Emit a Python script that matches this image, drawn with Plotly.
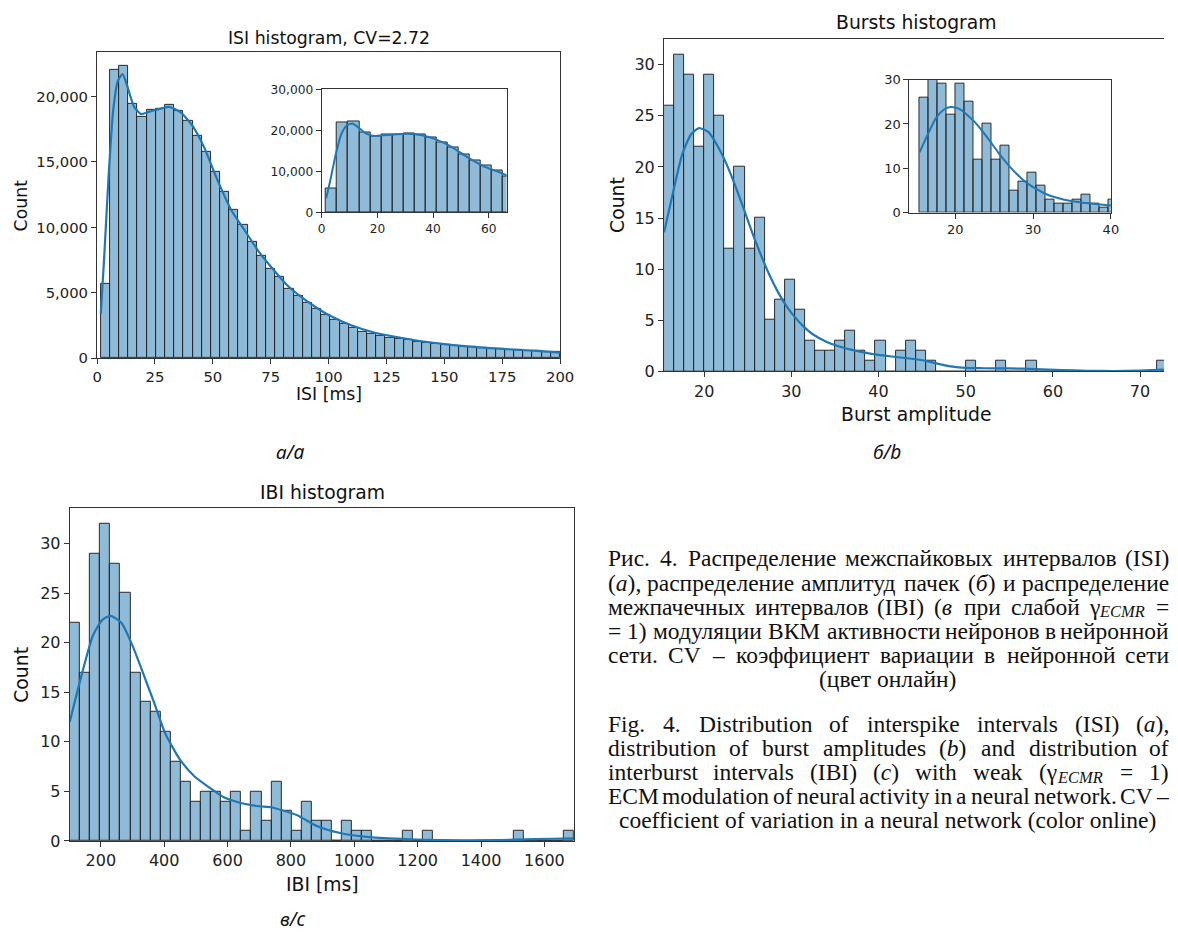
import re
import numpy as np
import plotly.graph_objects as go

W, H = 1178, 940

# ---------------- data ----------------
# ISI histogram (50 bins)
isi_bin_start = 1.57
isi_bin_width = 3.969
isi_counts = [5700, 22000, 22300, 19400, 18450, 19000, 19050, 19350, 18900, 18150,
              16950, 15800, 14200, 12700, 11350, 10150, 8850, 7850, 6800, 6250,
              5300, 4800, 4200, 3750, 3300, 2900, 2600, 2300, 2050, 1850,
              1700, 1550, 1450, 1380, 1280, 1180, 1100, 1030, 960, 900,
              850, 800, 750, 700, 660, 620, 580, 540, 500, 470]
isi_kde_x = [1.6, 3, 5, 7, 9, 11, 13, 16, 19, 22, 26, 31, 36, 41, 46, 52, 58, 64, 70,
             76, 82, 88, 94, 100, 110, 120, 130, 140, 150, 160, 170, 180, 190, 200]
isi_kde_y = [3400, 7500, 14000, 19000, 21200, 21700, 20800, 19200, 18650, 18800, 19000,
             19200, 18800, 17800, 16200, 13600, 11300, 9700, 8100, 6800, 5600, 4700,
             3950, 3300, 2500, 1950, 1600, 1300, 1080, 900, 770, 660, 560, 430]

# Bursts histogram (50 bins)
burst_bin_start = 15.4
burst_bin_width = 1.155
burst_counts = [26, 31, 29, 22, 29, 25, 12, 20, 12, 15,
                5, 7, 9, 6, 3, 2, 2, 3, 4, 2,
                1, 3, 0, 2, 3, 2, 1, 0, 0, 0,
                1, 0, 0, 1, 0, 0, 1, 0, 0, 0,
                0, 0, 0, 0, 0, 0, 0, 0, 0, 1]
burst_kde_x = [15.4, 16.5, 17.5, 18.5, 19.4, 20.5, 21.5, 22.5, 23.5, 24.5, 25.5, 26.5,
               27.5, 28.5, 29.5, 30.5, 31.5, 32.5, 34, 36, 38, 40, 42, 44, 45.5, 47,
               48.5, 50, 52, 55, 58, 61, 64, 67, 70, 73]
burst_kde_y = [13.6, 17.8, 21.3, 23.2, 23.8, 23.4, 22.1, 20.4, 18.3, 16.0, 13.6, 11.4,
               9.4, 7.7, 6.3, 5.2, 4.3, 3.6, 2.9, 2.3, 1.9, 1.6, 1.4, 1.2, 1.0, 0.7,
               0.45, 0.33, 0.3, 0.28, 0.22, 0.12, 0.05, 0.03, 0.08, 0.18]

# IBI histogram (50 bins)
ibi_bin_start = 102.3
ibi_bin_width = 31.82
ibi_counts = [22, 17, 29, 32, 28, 25, 17, 14, 13, 11,
              8, 6, 4, 5, 5, 4, 5, 1, 5, 2,
              6, 3, 1, 4, 2, 2, 0, 2, 1, 1,
              0, 0, 0, 1, 0, 1, 0, 0, 0, 0,
              0, 0, 0, 0, 1, 0, 0, 0, 0, 1]
ibi_kde_x = [102, 140, 175, 205, 231, 265, 300, 335, 370, 404, 450, 496, 542, 588, 613,
             645, 700, 737, 772, 820, 882, 955, 1048, 1173, 1278, 1340, 1400, 1508,
             1623, 1693]
ibi_kde_y = [12.0, 16.8, 20.7, 22.3, 22.7, 22.0, 19.7, 16.8, 13.8, 10.8, 8.2, 6.5, 5.4,
             4.4, 4.1, 3.8, 3.5, 3.4, 3.1, 2.6, 1.5, 0.8, 0.38, 0.17, 0.08, 0.04, 0.06,
             0.13, 0.22, 0.25]

isi_ticks = [0, 25, 50, 75, 100, 125, 150, 175, 200]
isi_yticks = [0, 5000, 10000, 15000, 20000]
isi_inset_xticks = [0, 20, 40, 60]
isi_inset_yticks = [0, 10000, 20000, 30000]
burst_ticks = [20, 30, 40, 50, 60, 70]
burst_yticks = [0, 5, 10, 15, 20, 25, 30]
burst_inset_xticks = [20, 30, 40]
burst_inset_yticks = [0, 10, 20, 30]
ibi_ticks = [200, 400, 600, 800, 1000, 1200, 1400, 1600]
ibi_yticks = [0, 5, 10, 15, 20, 25, 30]

caption_ru = [
    "Рис. 4. Распределение межспайковых интервалов (ISI)",
    "(<i>а</i>), распределение амплитуд пачек (<i>б</i>) и распределение",
    "межпачечных интервалов (IBI) (<i>в</i> при слабой γ<sub><i>ECMR</i></sub> =",
    "= 1) модуляции ВКМ активности нейронов в нейронной",
    "сети. CV – коэффициент вариации в нейронной сети",
    "(цвет онлайн)",
]
caption_en = [
    "Fig. 4. Distribution of interspike intervals (ISI) (<i>a</i>),",
    "distribution of burst amplitudes (<i>b</i>) and distribution of",
    "interburst intervals (IBI) (<i>c</i>) with weak (γ<sub><i>ECMR</i></sub> = 1)",
    "ECM modulation of neural activity in a neural network. CV –",
    "coefficient of variation in a neural network (color online)",
]

# ---------------- style ----------------
FILL = "rgba(31,119,180,0.5)"
EDGE = "#2a2a2a"
LINE = "#1f77b4"
FONT = "DejaVu Sans"
SERIF = "Liberation Serif"
AX = "#333333"

# approximate glyph advance widths (em) of the serif caption font
TW = {' ': .25, '(': .333, ')': .333, ',': .25, '.': .25, '–': .5, '=': .564, 'γ': .43}
TW.update({d: .5 for d in "0123456789"})
TW.update(dict(zip("ABCDEFGHIJKLMNOPQRSTUVWXYZ",
                   [.722, .667, .667, .722, .611, .556, .722, .722, .333, .389, .722, .611, .889,
                    .722, .722, .556, .722, .667, .556, .611, .722, .722, .944, .722, .722, .611])))
TW.update(dict(zip("abcdefghijklmnopqrstuvwxyz",
                   [.444, .5, .444, .5, .444, .333, .5, .5, .278, .278, .5, .278, .778,
                    .5, .5, .5, .5, .333, .389, .278, .5, .5, .722, .5, .5, .444])))
TW.update(dict(zip("абвгдежзийклмнопрстуфхцчшщъыьэюя",
                   [.444, .509, .472, .41, .509, .444, .691, .395, .535, .535, .486, .499, .633,
                    .535, .5, .535, .5, .444, .437, .5, .648, .5, .535, .503, .77, .77, .517,
                    .672, .456, .429, .747, .46])))
TW.update({'Р': .556, 'В': .667, 'К': .722, 'М': .889, 'С': .667})
SUBSCALE = 0.7


def px_x(p):
    return p / W


def px_y(p):
    return 1 - p / H


fig = go.Figure()


def add_hist(start, width, counts, xa, ya):
    edges = start + width * np.arange(len(counts) + 1)
    centers = (edges[:-1] + edges[1:]) / 2
    fig.add_trace(go.Bar(x=centers, y=counts, width=width, xaxis=xa, yaxis=ya,
                         marker=dict(color=FILL, line=dict(color=EDGE, width=1)),
                         showlegend=False, hoverinfo="skip"))


def add_kde(xs, ys, xa, ya, w=2.2):
    fig.add_trace(go.Scatter(x=xs, y=ys, mode="lines", xaxis=xa, yaxis=ya,
                             line=dict(color=LINE, width=w, shape="spline", smoothing=0.6),
                             showlegend=False, hoverinfo="skip"))


add_hist(isi_bin_start, isi_bin_width, isi_counts, "x", "y")
add_kde(isi_kde_x, isi_kde_y, "x", "y")
add_hist(isi_bin_start, isi_bin_width, isi_counts, "x2", "y2")
add_kde(isi_kde_x, isi_kde_y, "x2", "y2", 2.0)
add_hist(burst_bin_start, burst_bin_width, burst_counts, "x3", "y3")
add_kde(burst_kde_x, burst_kde_y, "x3", "y3")
add_hist(burst_bin_start, burst_bin_width, burst_counts, "x4", "y4")
add_kde(burst_kde_x, burst_kde_y, "x4", "y4", 2.0)
add_hist(ibi_bin_start, ibi_bin_width, ibi_counts, "x5", "y5")
add_kde(ibi_kde_x, ibi_kde_y, "x5", "y5")


def axis(dom, rng, ticks, size, anchor, fmt=None, mirror=True):
    d = dict(domain=dom, range=rng, tickvals=ticks, anchor=anchor,
             showgrid=False, zeroline=False, showline=True, mirror=mirror,
             linecolor=AX, linewidth=1.2, ticks="outside", ticklen=5, tickwidth=1.2,
             tickcolor=AX, tickfont=dict(family=FONT, size=size, color="#222"))
    if fmt:
        d["tickformat"] = fmt
    return d


fig.update_layout(
    xaxis=axis([px_x(93.6), px_x(564.2)], [0, 200], isi_ticks, 14.8, "y"),
    yaxis=axis([px_y(357.7), px_y(45.7)], [0, 23400], isi_yticks, 14.8, "x", ",d"),
    xaxis2=axis([px_x(321.9), px_x(509.8)], [0, 66.4], isi_inset_xticks, 12.2, "y2"),
    yaxis2=axis([px_y(209), px_y(84)], [0, 30000], isi_inset_yticks, 12.2, "x2", ",d"),
    xaxis3=axis([px_x(669.9), 1.0], [15.4, 15.4 + (1178 - 669.9) / 8.86], burst_ticks, 16, "y3"),
    yaxis3=axis([px_y(371), px_y(32.3)], [0, 32.55], burst_yticks, 16, "x3", mirror=False),
    xaxis4=axis([px_x(919.3), px_x(1124)], [14.1, 40], burst_inset_xticks, 13, "y4"),
    yaxis4=axis([px_y(209.3), px_y(74)], [0, 30], burst_inset_yticks, 13, "x4"),
    xaxis5=axis([px_x(65.9), px_x(578.2)], [102.3, 1693], ibi_ticks, 16, "y5"),
    yaxis5=axis([px_y(849.3), px_y(510)], [0, 33.6], ibi_yticks, 16, "x5"),
)

ann = []


def text(x, y, s, size, family=FONT, angle=0, xanchor="center", color="#111"):
    ann.append(dict(x=px_x(x), y=px_y(y), xref="paper", yref="paper", text=s,
                    showarrow=False, xanchor=xanchor, yanchor="middle", textangle=angle,
                    borderpad=0, borderwidth=0,
                    font=dict(family=family, size=size, color=color)))


text(328.9, 31.7, "ISI histogram, CV=2.72", 17.3)
text(328.9, 394, "ISI [ms]", 17.3)
text(16.6, 201.7, "Count", 17.3, angle=-90)
text(926.5, 16, "Bursts histogram", 18.8)
text(926.5, 415, "Burst amplitude", 18.8)
text(621.9, 201.7, "Count", 18.8, angle=-90)
text(322.4, 494, "IBI histogram", 18.8)
text(323, 893.5, "IBI [ms]", 18.8)
text(16.6, 679.7, "Count", 18.8, angle=-90)

text(290, 453.3, "<i>а/a</i>", 19, family="Noto Sans")
text(896.8, 453.3, "<i>б/b</i>", 19, family="Noto Sans")
text(292.3, 929, "<i>в/c</i>", 19, family="Noto Sans")

# ---------------- caption (justified, word by word) ----------------
CAP_SIZE = 23.5
CAP_LEFT, CAP_RIGHT = 612.4, 1183.0
CAP_CENTER = 896.6


def em(s):
    return sum(TW.get(c, 0.5) for c in s)


def strip(s):
    return re.sub(r"<[^>]+>", "", s)


def split_word(w):
    m = re.match(r"(.*?)<sub>(.*?)</sub>(.*)$", w)
    if m:
        return m.group(1), strip(m.group(1)), strip(m.group(2)), m.group(3)
    return w, strip(w), "", ""


def word_width(w):
    main_html, main_plain, sub, tail = split_word(w)
    return (em(main_plain) + SUBSCALE * em(sub) + em(strip(tail))) * CAP_SIZE


def draw_word(x, y, w, anchor="left"):
    main_html, main_plain, sub, tail = split_word(w)
    if not sub:
        text(x, y, main_html, CAP_SIZE, family=SERIF, xanchor=anchor)
        return
    text(x, y, main_html, CAP_SIZE, family=SERIF, xanchor="left")
    xs = x + em(main_plain) * CAP_SIZE
    text(xs, y + 5, "<i>" + sub + "</i>", CAP_SIZE * SUBSCALE, family=SERIF, xanchor="left")
    if tail:
        text(xs + SUBSCALE * em(sub) * CAP_SIZE, y, tail, CAP_SIZE, family=SERIF, xanchor="left")


def draw_line(line, y, justify=True):
    words = line.split(" ")
    widths = [word_width(w) for w in words]
    if justify and len(words) > 1:
        gap = (CAP_RIGHT - CAP_LEFT - sum(widths)) / (len(words) - 1)
        x = CAP_LEFT
        for k, (w, wd) in enumerate(zip(words, widths)):
            if k == len(words) - 1 and "<sub>" not in w:
                draw_word(CAP_RIGHT, y, w, anchor="right")
            else:
                draw_word(x, y, w)
            x += wd + gap
    else:
        text(CAP_CENTER, y, line, CAP_SIZE, family=SERIF)


for i, line in enumerate(caption_ru):
    draw_line(line, 561.5 + 24.6 * i, justify=(i < len(caption_ru) - 1))
for i, line in enumerate(caption_en):
    draw_line(line, 730 + 24.6 * i, justify=(i < len(caption_en) - 1))

fig.update_layout(
    annotations=ann,
    width=W, height=H,
    margin=dict(l=0, r=0, t=0, b=0),
    paper_bgcolor="white", plot_bgcolor="rgba(0,0,0,0)",
    bargap=0, showlegend=False,
)

fig.write_html("out.html")
